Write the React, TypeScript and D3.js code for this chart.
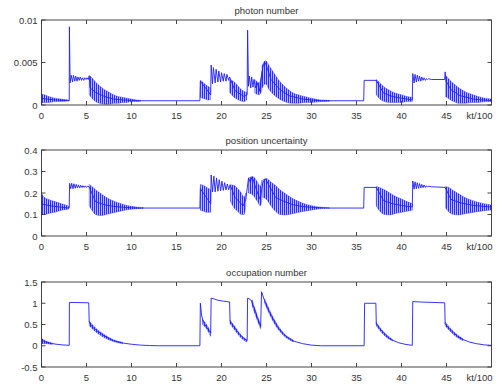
import React from "react";
import * as d3 from "d3";

// x axis (kt/100)
const xTicks = [0, 5, 10, 15, 20, 25, 30, 35, 40, 45];
const xUnit = "kt/100";

const titles = ["photon number", "position uncertainty", "occupation number"];

const photonTicks = [0, 0.005, 0.01];
const photonTickLabels = ["0", "0.005", "0.01"];
const positionTicks = [0, 0.1, 0.2, 0.3, 0.4];
const positionTickLabels = ["0", "0.1", "0.2", "0.3", "0.4"];
const occupationTicks = [-0.5, 0, 0.5, 1, 1.5];
const occupationTickLabels = ["-0.5", "0", "0.5", "1", "1.5"];

// [t, value] trace (visible zigzags included)
const photonLine: [number, number][] = [
  [0, 0.0008], [0.5, 0.0007], [1.5, 0.0006], [3.08, 0.0005], [3.1, 0.0092], [3.18, 0.0026],
  [3.3, 0.0035], [3.45, 0.0027], [3.55, 0.0035], [3.7, 0.0028], [3.8, 0.0034], [3.95, 0.0028],
  [4.05, 0.0033], [4.2, 0.0029], [4.3, 0.0033], [4.45, 0.0029], [4.55, 0.0032], [4.7, 0.0029],
  [4.8, 0.0032], [4.95, 0.003], [5.05, 0.0032], [5.2, 0.003], [5.3, 0.0034], [5.4, 0.002],
  [6, 0.0015], [7, 0.001], [8, 0.0007], [9, 0.0006], [10, 0.00055], [11, 0.0005], [17.6, 0.0005],
  [17.65, 0.0028], [18.8, 0.0012], [18.85, 0.0047], [19.0, 0.0025], [19.1, 0.0044], [19.3, 0.0026],
  [19.4, 0.0042], [19.6, 0.0027], [19.7, 0.004], [19.9, 0.0027], [20.0, 0.0038], [20.2, 0.0028],
  [20.3, 0.0037], [20.5, 0.0028], [20.6, 0.0036], [20.8, 0.0029], [20.9, 0.0033], [21.5, 0.0017],
  [22.5, 0.001], [22.85, 0.0012], [22.9, 0.0088], [23.0, 0.0022], [23.1, 0.0034], [23.25, 0.002],
  [23.35, 0.0033], [23.5, 0.0021], [23.6, 0.003], [23.8, 0.002], [24.0, 0.0026], [24.2, 0.0016],
  [24.6, 0.0045], [24.8, 0.0051], [25.0, 0.0046], [25.5, 0.003], [26.5, 0.0018], [27.5, 0.0011],
  [29, 0.0007], [31, 0.0005], [35.8, 0.0005], [35.85, 0.0029], [37.2, 0.0029], [38, 0.0014],
  [39, 0.001], [40, 0.0008], [41.2, 0.0006], [41.25, 0.0037], [41.4, 0.0026], [41.5, 0.0036],
  [41.65, 0.0027], [41.75, 0.0035], [41.9, 0.0028], [42.0, 0.0034], [42.15, 0.0028], [42.25, 0.0033],
  [42.4, 0.0029], [42.5, 0.0032], [42.65, 0.0029], [42.75, 0.0031], [42.9, 0.003], [43, 0.0031],
  [43.3, 0.003], [44.8, 0.003], [44.85, 0.0039], [44.95, 0.0028], [45.5, 0.0018], [46.5, 0.0011],
  [48, 0.0007], [50, 0.0005],
];

// [t, low, high] envelopes of the dense oscillation
const photonBands: [number, number, number][][] = [
  [[0, 0.0002, 0.0013], [0.3, 0.0003, 0.0012], [0.8, 0.0003, 0.001], [1.5, 0.0004, 0.0008], [2.2, 0.0004, 0.0007], [3.0, 0.0005, 0.0006]],
  [[5.3, 0.0012, 0.0035], [5.6, 0.0008, 0.0032], [6.0, 0.0004, 0.0027], [6.5, 0.0002, 0.0022], [7.0, 0.0001, 0.0018], [7.5, 0.0001, 0.0015], [8.0, 0.0002, 0.0012], [8.5, 0.0002, 0.001], [9.0, 0.0003, 0.0009], [9.5, 0.0003, 0.0008], [10, 0.0004, 0.0007], [10.5, 0.0004, 0.0006], [11, 0.00045, 0.00055]],
  [[17.65, 0.0009, 0.0029], [17.9, 0.0008, 0.0027], [18.2, 0.0007, 0.0024], [18.5, 0.0006, 0.0022], [18.75, 0.0006, 0.002]],
  [[20.9, 0.0015, 0.003], [21.3, 0.001, 0.0028], [21.7, 0.0007, 0.0024], [22.1, 0.0005, 0.0019], [22.5, 0.0004, 0.0016], [22.8, 0.0006, 0.0015]],
  [[23.7, 0.0014, 0.003], [24.2, 0.0012, 0.0026], [24.5, 0.0018, 0.004]],
  [[24.5, 0.002, 0.0046], [24.9, 0.0025, 0.0052], [25.3, 0.0018, 0.0046], [25.8, 0.0012, 0.0038], [26.3, 0.0008, 0.003], [26.8, 0.0005, 0.0024], [27.3, 0.0003, 0.0019], [27.8, 0.0002, 0.0015], [28.5, 0.0002, 0.0012], [29.2, 0.0003, 0.001], [30, 0.0003, 0.0008], [31, 0.0004, 0.0006], [32, 0.00045, 0.00055]],
  [[37.2, 0.0012, 0.003], [37.6, 0.0007, 0.0026], [38.1, 0.0004, 0.0021], [38.7, 0.0003, 0.0017], [39.3, 0.0003, 0.0014], [40, 0.0003, 0.0012], [40.6, 0.0004, 0.001], [41.2, 0.0004, 0.0009]],
  [[44.9, 0.001, 0.0035], [45.3, 0.0007, 0.003], [45.8, 0.0004, 0.0025], [46.4, 0.0002, 0.002], [47, 0.0002, 0.0016], [47.7, 0.0003, 0.0013], [48.5, 0.0003, 0.001], [49.3, 0.0004, 0.0008], [50, 0.0004, 0.0007]],
];

const positionLine: [number, number][] = [
  [0, 0.15], [1, 0.14], [2, 0.135], [3.08, 0.13], [3.12, 0.245], [3.25, 0.22], [3.35, 0.245],
  [3.5, 0.22], [3.6, 0.243], [3.75, 0.222], [3.85, 0.24], [4.0, 0.223], [4.1, 0.238], [4.25, 0.224],
  [4.35, 0.236], [4.5, 0.225], [4.6, 0.234], [4.75, 0.226], [4.85, 0.233], [5.0, 0.226], [5.1, 0.232],
  [5.3, 0.228], [6, 0.16], [7, 0.145], [8, 0.138], [9, 0.134], [10, 0.131], [11, 0.13], [17.6, 0.13],
  [17.65, 0.22], [18.8, 0.15], [18.85, 0.284], [19.0, 0.205], [19.15, 0.278], [19.3, 0.205],
  [19.45, 0.27], [19.6, 0.208], [19.75, 0.262], [19.9, 0.21], [20.05, 0.255], [20.2, 0.212],
  [20.35, 0.248], [20.5, 0.214], [20.65, 0.242], [20.8, 0.215], [20.95, 0.238], [21.5, 0.18],
  [22.4, 0.14], [22.7, 0.17], [23.0, 0.27], [23.2, 0.25], [23.4, 0.276], [24.0, 0.2], [24.3, 0.17],
  [24.6, 0.25], [24.9, 0.265], [26, 0.18], [27, 0.16], [28, 0.145], [29, 0.137], [30.5, 0.132],
  [32, 0.13], [35.8, 0.13], [35.85, 0.226], [37.2, 0.226], [38, 0.165], [39, 0.15], [40, 0.142],
  [41.2, 0.135], [41.25, 0.256], [41.4, 0.218], [41.5, 0.252], [41.65, 0.22], [41.75, 0.248],
  [41.9, 0.222], [42.0, 0.244], [42.15, 0.224], [42.25, 0.24], [42.4, 0.225], [42.5, 0.237],
  [42.65, 0.226], [42.75, 0.234], [42.9, 0.227], [43.0, 0.232], [43.3, 0.229], [44.85, 0.226],
  [45.5, 0.17], [46.5, 0.155], [48, 0.142], [50, 0.135],
];

const positionBands: [number, number, number][][] = [
  [[0, 0.1, 0.2], [0.3, 0.1, 0.18], [0.8, 0.105, 0.17], [1.5, 0.11, 0.16], [2.2, 0.12, 0.15], [3.0, 0.125, 0.14]],
  [[5.3, 0.14, 0.24], [5.6, 0.12, 0.23], [6.0, 0.1, 0.215], [6.5, 0.095, 0.2], [7.0, 0.098, 0.185], [7.5, 0.103, 0.172], [8.0, 0.108, 0.163], [8.5, 0.113, 0.155], [9.0, 0.118, 0.148], [9.5, 0.122, 0.142], [10, 0.125, 0.138], [10.7, 0.127, 0.134], [11.3, 0.129, 0.132]],
  [[17.65, 0.12, 0.24], [18.0, 0.115, 0.235], [18.4, 0.11, 0.225], [18.8, 0.11, 0.215]],
  [[21.0, 0.16, 0.238], [21.4, 0.13, 0.235], [21.8, 0.115, 0.22], [22.2, 0.1, 0.2], [22.5, 0.1, 0.18], [22.7, 0.14, 0.2]],
  [[23.0, 0.2, 0.27], [23.5, 0.19, 0.276], [24.0, 0.16, 0.25], [24.3, 0.14, 0.23], [24.5, 0.17, 0.26]],
  [[24.6, 0.18, 0.262], [25.0, 0.17, 0.268], [25.5, 0.14, 0.25], [26.0, 0.115, 0.235], [26.5, 0.1, 0.215], [27.0, 0.098, 0.2], [27.5, 0.1, 0.185], [28.0, 0.105, 0.172], [28.6, 0.11, 0.16], [29.2, 0.115, 0.15], [29.9, 0.12, 0.142], [30.6, 0.125, 0.136], [31.3, 0.128, 0.133], [32, 0.129, 0.131]],
  [[37.2, 0.14, 0.23], [37.6, 0.115, 0.225], [38.1, 0.1, 0.215], [38.7, 0.098, 0.2], [39.3, 0.105, 0.185], [40, 0.11, 0.172], [40.6, 0.115, 0.16], [41.2, 0.12, 0.15]],
  [[44.9, 0.13, 0.23], [45.3, 0.11, 0.225], [45.8, 0.1, 0.21], [46.4, 0.098, 0.195], [47, 0.103, 0.18], [47.7, 0.108, 0.168], [48.4, 0.113, 0.158], [49.2, 0.118, 0.15], [50, 0.121, 0.144]],
];

const occupationLine: [number, number][] = [
  [0, 0.15], [0.3, 0.1], [0.8, 0.07], [1.5, 0.04], [2.3, 0.02], [3.08, 0.01], [3.1, 1.02], [5.25, 1.01],
  [5.3, 0.56], [5.6, 0.45], [6.0, 0.38], [6.5, 0.3], [7.0, 0.23], [7.5, 0.17], [8.0, 0.12], [8.5, 0.09],
  [9.0, 0.065], [10, 0.035], [11, 0.015], [12, 0.005], [13, 0], [17.6, 0], [17.65, 1.0], [17.8, 0.7],
  [18.0, 0.55], [18.3, 0.45], [18.8, 0.3], [18.85, 1.12], [19.2, 1.1], [19.6, 1.07], [20.2, 1.05],
  [20.9, 1.03], [20.95, 0.58], [21.3, 0.47], [21.7, 0.35], [22.1, 0.25], [22.5, 0.17], [22.85, 0.12],
  [22.9, 1.12], [23.1, 1.1], [23.3, 1.07], [23.5, 0.95], [23.7, 0.85], [23.9, 0.7], [24.1, 0.6],
  [24.35, 0.45], [24.45, 1.27], [24.8, 1.05], [25.2, 0.85], [25.8, 0.6], [26.3, 0.42], [26.9, 0.27],
  [27.5, 0.17], [28, 0.11], [29, 0.05], [30, 0.015], [31, 0], [35.85, 0], [35.9, 1.0], [37.15, 1.0],
  [37.2, 0.52], [37.6, 0.4], [38.0, 0.3], [38.5, 0.2], [39, 0.13], [39.7, 0.07], [40.5, 0.03],
  [41.2, 0.01], [41.25, 1.04], [42, 1.03], [44.8, 1.01], [44.85, 0.52], [45.3, 0.4], [45.8, 0.3],
  [46.3, 0.21], [46.8, 0.15], [47.5, 0.09], [48.3, 0.05], [49.2, 0.02], [50, 0.01],
];

const occupationBands: [number, number, number][][] = [
  [[0, 0.05, 0.17], [0.5, 0.05, 0.11], [1.2, 0.03, 0.06]],
  [[5.3, 0.47, 0.58], [6, 0.33, 0.42], [7, 0.19, 0.26], [8, 0.1, 0.14], [9, 0.05, 0.08]],
  [[17.9, 0.5, 0.62], [18.4, 0.38, 0.48], [18.8, 0.22, 0.32]],
  [[20.95, 0.52, 0.6], [21.5, 0.36, 0.45], [22.1, 0.2, 0.27], [22.8, 0.09, 0.14]],
  [[23.4, 0.95, 1.08], [23.9, 0.64, 0.76], [24.35, 0.4, 0.5]],
  [[24.8, 1.0, 1.1], [25.8, 0.55, 0.64], [26.9, 0.24, 0.3], [28, 0.09, 0.13]],
  [[37.2, 0.47, 0.55], [38, 0.26, 0.33], [39, 0.11, 0.15]],
  [[44.85, 0.47, 0.56], [45.8, 0.26, 0.33], [46.8, 0.12, 0.17]],
];

const W = 497;
const H = 385;
const LEFT = 41.5;
const RIGHT = 491.5;
const FONT = "'Liberation Sans', Arial, Helvetica, sans-serif";
const BLUE = "#1f1fff";
const INK = "#333";

const panels = [
  { top: 20, bottom: 105, domain: [0, 0.01], ticks: photonTicks, labels: photonTickLabels, line: photonLine, bands: photonBands },
  { top: 150, bottom: 236, domain: [0, 0.4], ticks: positionTicks, labels: positionTickLabels, line: positionLine, bands: positionBands },
  { top: 282, bottom: 367, domain: [-0.5, 1.5], ticks: occupationTicks, labels: occupationTickLabels, line: occupationLine, bands: occupationBands },
];

const x = d3.scaleLinear().domain([0, 50]).range([LEFT, RIGHT]);

function Panel({ p, title }: { p: (typeof panels)[number]; title: string }) {
  const y = d3.scaleLinear().domain(p.domain).range([p.bottom, p.top]);
  const line = d3
    .line<[number, number]>()
    .x((d) => x(d[0]))
    .y((d) => y(d[1]));
  const area = d3
    .area<[number, number, number]>()
    .x((d) => x(d[0]))
    .y0((d) => y(d[1]))
    .y1((d) => y(d[2]))
    .curve(d3.curveMonotoneX);
  const tl = 4;

  return (
    <g>
      <text x={(LEFT + RIGHT) / 2} y={p.top - 6.5} textAnchor="middle" fontSize={9.5} fill={INK}>
        {title}
      </text>
      {p.bands.map((b, i) => (
        <path key={i} d={area(b) || ""} fill="url(#osc)" stroke={BLUE} strokeWidth={0.5} strokeOpacity={0.7} />
      ))}
      <path d={line(p.line) || ""} fill="none" stroke={BLUE} strokeWidth={1} strokeOpacity={0.9} strokeLinejoin="round" />
      <rect x={LEFT} y={p.top} width={RIGHT - LEFT} height={p.bottom - p.top} fill="none" stroke={INK} strokeWidth={0.9} />
      {xTicks.map((t) => (
        <g key={t}>
          <line x1={x(t)} x2={x(t)} y1={p.bottom} y2={p.bottom - tl} stroke={INK} strokeWidth={0.9} />
          <line x1={x(t)} x2={x(t)} y1={p.top} y2={p.top + tl} stroke={INK} strokeWidth={0.9} />
          <text x={x(t)} y={p.bottom + 13.5} textAnchor="middle" fontSize={9.5} fill={INK}>
            {t}
          </text>
        </g>
      ))}
      <text x={RIGHT + 1} y={p.bottom + 13.5} textAnchor="end" fontSize={9.5} fill={INK}>
        {xUnit}
      </text>
      {p.ticks.map((v, i) => (
        <g key={v}>
          <line x1={LEFT} x2={LEFT + tl} y1={y(v)} y2={y(v)} stroke={INK} strokeWidth={0.9} />
          <line x1={RIGHT} x2={RIGHT - tl} y1={y(v)} y2={y(v)} stroke={INK} strokeWidth={0.9} />
          <text x={LEFT - 4} y={y(v) + 3.5} textAnchor="end" fontSize={9.5} fill={INK}>
            {p.labels[i]}
          </text>
        </g>
      ))}
    </g>
  );
}

export default function App() {
  return (
    <svg
      width={W}
      height={H}
      style={{ position: "absolute", left: 0, top: 0, background: "#fff" }}
      fontFamily={FONT}
    >
      <defs>
        {/* vertical strokes to mimic the dense oscillation */}
        <pattern id="osc" width={2} height={4} patternUnits="userSpaceOnUse">
          <rect x={0} y={0} width={2} height={4} fill={BLUE} fillOpacity={0.3} />
          <rect x={0} y={0} width={1} height={4} fill={BLUE} fillOpacity={0.9} />
        </pattern>
      </defs>
      {panels.map((p, i) => (
        <Panel key={i} p={p} title={titles[i]} />
      ))}
    </svg>
  );
}
